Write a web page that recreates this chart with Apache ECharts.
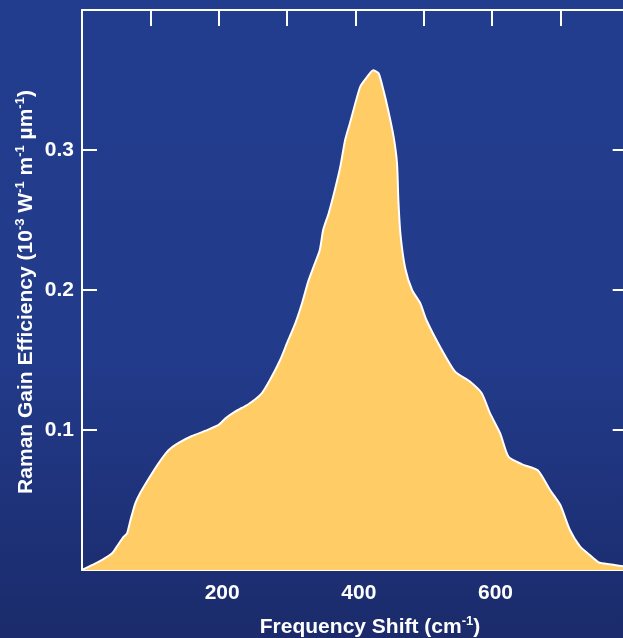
<!DOCTYPE html>
<html>
<head>
<meta charset="utf-8">
<script src="https://cdn.jsdelivr.net/npm/echarts@6/dist/echarts.min.js"></script>
<style>
html,body{margin:0;padding:0;background:#1f3380;}
#chart{width:623px;height:638px;}
</style>
</head>
<body>
<div id="chart"></div>
<script>
// Frequency shift (cm-1)
var shiftValues = [0, 15, 29, 44, 51, 61, 66, 71, 78, 85, 98, 112, 127, 142, 161, 181, 200, 210, 224, 244, 263, 275, 290, 300, 312, 322, 331, 339, 348, 353, 361, 370, 378, 385, 392, 407, 417, 426, 434, 441, 448, 456, 461, 463, 466, 473, 483, 495, 504, 524, 546, 568, 585, 597, 612, 624, 644, 667, 685, 700, 714, 729, 743, 756, 773, 800];
// Raman gain efficiency (10^-3 W^-1 m^-1 um^-1)
var gainValues = [0, 0.0036, 0.0071, 0.0119, 0.0167, 0.0238, 0.0262, 0.0357, 0.0476, 0.0548, 0.0655, 0.0762, 0.0857, 0.0910, 0.0957, 0.0995, 0.1036, 0.1083, 0.1131, 0.1186, 0.1262, 0.1357, 0.1500, 0.1620, 0.1760, 0.1905, 0.2060, 0.2167, 0.2286, 0.2430, 0.2548, 0.2714, 0.2880, 0.3070, 0.3190, 0.3450, 0.3520, 0.3570, 0.3548, 0.3430, 0.3286, 0.3095, 0.2905, 0.2640, 0.2400, 0.2155, 0.2000, 0.1905, 0.1786, 0.1595, 0.1417, 0.1345, 0.1262, 0.1120, 0.0976, 0.0810, 0.0755, 0.0712, 0.0571, 0.0464, 0.0286, 0.0167, 0.0107, 0.0055, 0.0041, 0.0020];
var xTickLabels = [200, 400, 600];
var yTickLabels = [0.1, 0.2, 0.3];

var seriesData = shiftValues.map(function (x, i) { return [x, gainValues[i]]; });

var font = "'Liberation Sans', Arial, Helvetica, sans-serif";
var labelStyle = { color: '#ffffff', fontWeight: 'bold', fontSize: 21, fontFamily: font };
var lineStyle = { color: '#ffffff', width: 2 };

var chart = echarts.init(document.getElementById('chart'), null, { renderer: 'canvas' });
chart.setOption({
  animation: false,
  backgroundColor: {
    type: 'linear', x: 0, y: 0, x2: 0, y2: 1,
    colorStops: [{ offset: 0, color: '#233d8e' }, { offset: 0.55, color: '#223b8b' }, { offset: 1, color: '#1b2b6b' }]
  },
  grid: { left: 82, top: 10, width: 546.67, height: 560, containLabel: false, outerBoundsMode: 'none' },
  xAxis: [{
    type: 'value', min: 0, max: 800, interval: 100, position: 'bottom',
    axisLine: { show: true, onZero: false, lineStyle: lineStyle },
    axisTick: { show: true, inside: true, length: 16, lineStyle: lineStyle },
    splitLine: { show: false },
    axisLabel: Object.assign({ margin: 13, padding: [0, 0, 0, 7], showMinLabel: true, showMaxLabel: true,
      formatter: function (v) { return xTickLabels.indexOf(v) >= 0 ? String(v) : ''; } }, labelStyle)
  }, {
    type: 'value', min: 0, max: 800, interval: 100, position: 'top',
    axisLine: { show: true, onZero: false, lineStyle: lineStyle },
    axisTick: { show: true, inside: true, length: 16, lineStyle: lineStyle },
    splitLine: { show: false }, axisLabel: { show: false }
  }],
  yAxis: [{
    type: 'value', min: 0, max: 0.4, interval: 0.1, position: 'left',
    axisLine: { show: true, onZero: false, lineStyle: lineStyle },
    axisTick: { show: true, inside: true, length: 15, lineStyle: lineStyle },
    splitLine: { show: false },
    axisLabel: Object.assign({ margin: 8,
      formatter: function (v) {
        var r = Math.round(v * 10) / 10;
        return yTickLabels.indexOf(r) >= 0 ? r.toFixed(1) : '';
      } }, labelStyle)
  }, {
    type: 'value', min: 0, max: 0.4, interval: 0.1, position: 'right',
    axisLine: { show: true, onZero: false, lineStyle: lineStyle },
    axisTick: { show: true, inside: true, length: 16, lineStyle: lineStyle },
    splitLine: { show: false }, axisLabel: { show: false }
  }],
  series: [{
    type: 'line', xAxisIndex: 0, yAxisIndex: 0,
    data: seriesData, showSymbol: false, symbol: 'none', smooth: 0.2,
    lineStyle: { color: '#ffffff', width: 2 },
    areaStyle: { color: '#ffcc66', opacity: 1 },
    z: 1
  }],
  graphic: [{
    type: 'text', x: 370, y: 627, z: 10,
    style: {
      text: '{n|Frequency Shift (cm}{s|-1}{n|)}',
      align: 'center', verticalAlign: 'middle', fill: '#ffffff',
      rich: {
        n: { fontSize: 21, fontWeight: 'bold', fontFamily: font, color: '#ffffff', lineHeight: 24 },
        s: { fontSize: 13, fontWeight: 'bold', fontFamily: font, color: '#ffffff', verticalAlign: 'top', lineHeight: 13 }
      }
    }
  }, {
    type: 'text', x: 26, y: 292, rotation: Math.PI / 2, z: 10,
    style: {
      text: '{n|Raman Gain Efficiency (10}{s|-3}{n| W}{s|-1}{n| m}{s|-1}{n| µm}{s|-1}{n|)}',
      align: 'center', verticalAlign: 'middle', fill: '#ffffff',
      rich: {
        n: { fontSize: 21, fontWeight: 'bold', fontFamily: font, color: '#ffffff', lineHeight: 24 },
        s: { fontSize: 13, fontWeight: 'bold', fontFamily: font, color: '#ffffff', verticalAlign: 'top', lineHeight: 13 }
      }
    }
  }]
});
</script>
</body>
</html>
